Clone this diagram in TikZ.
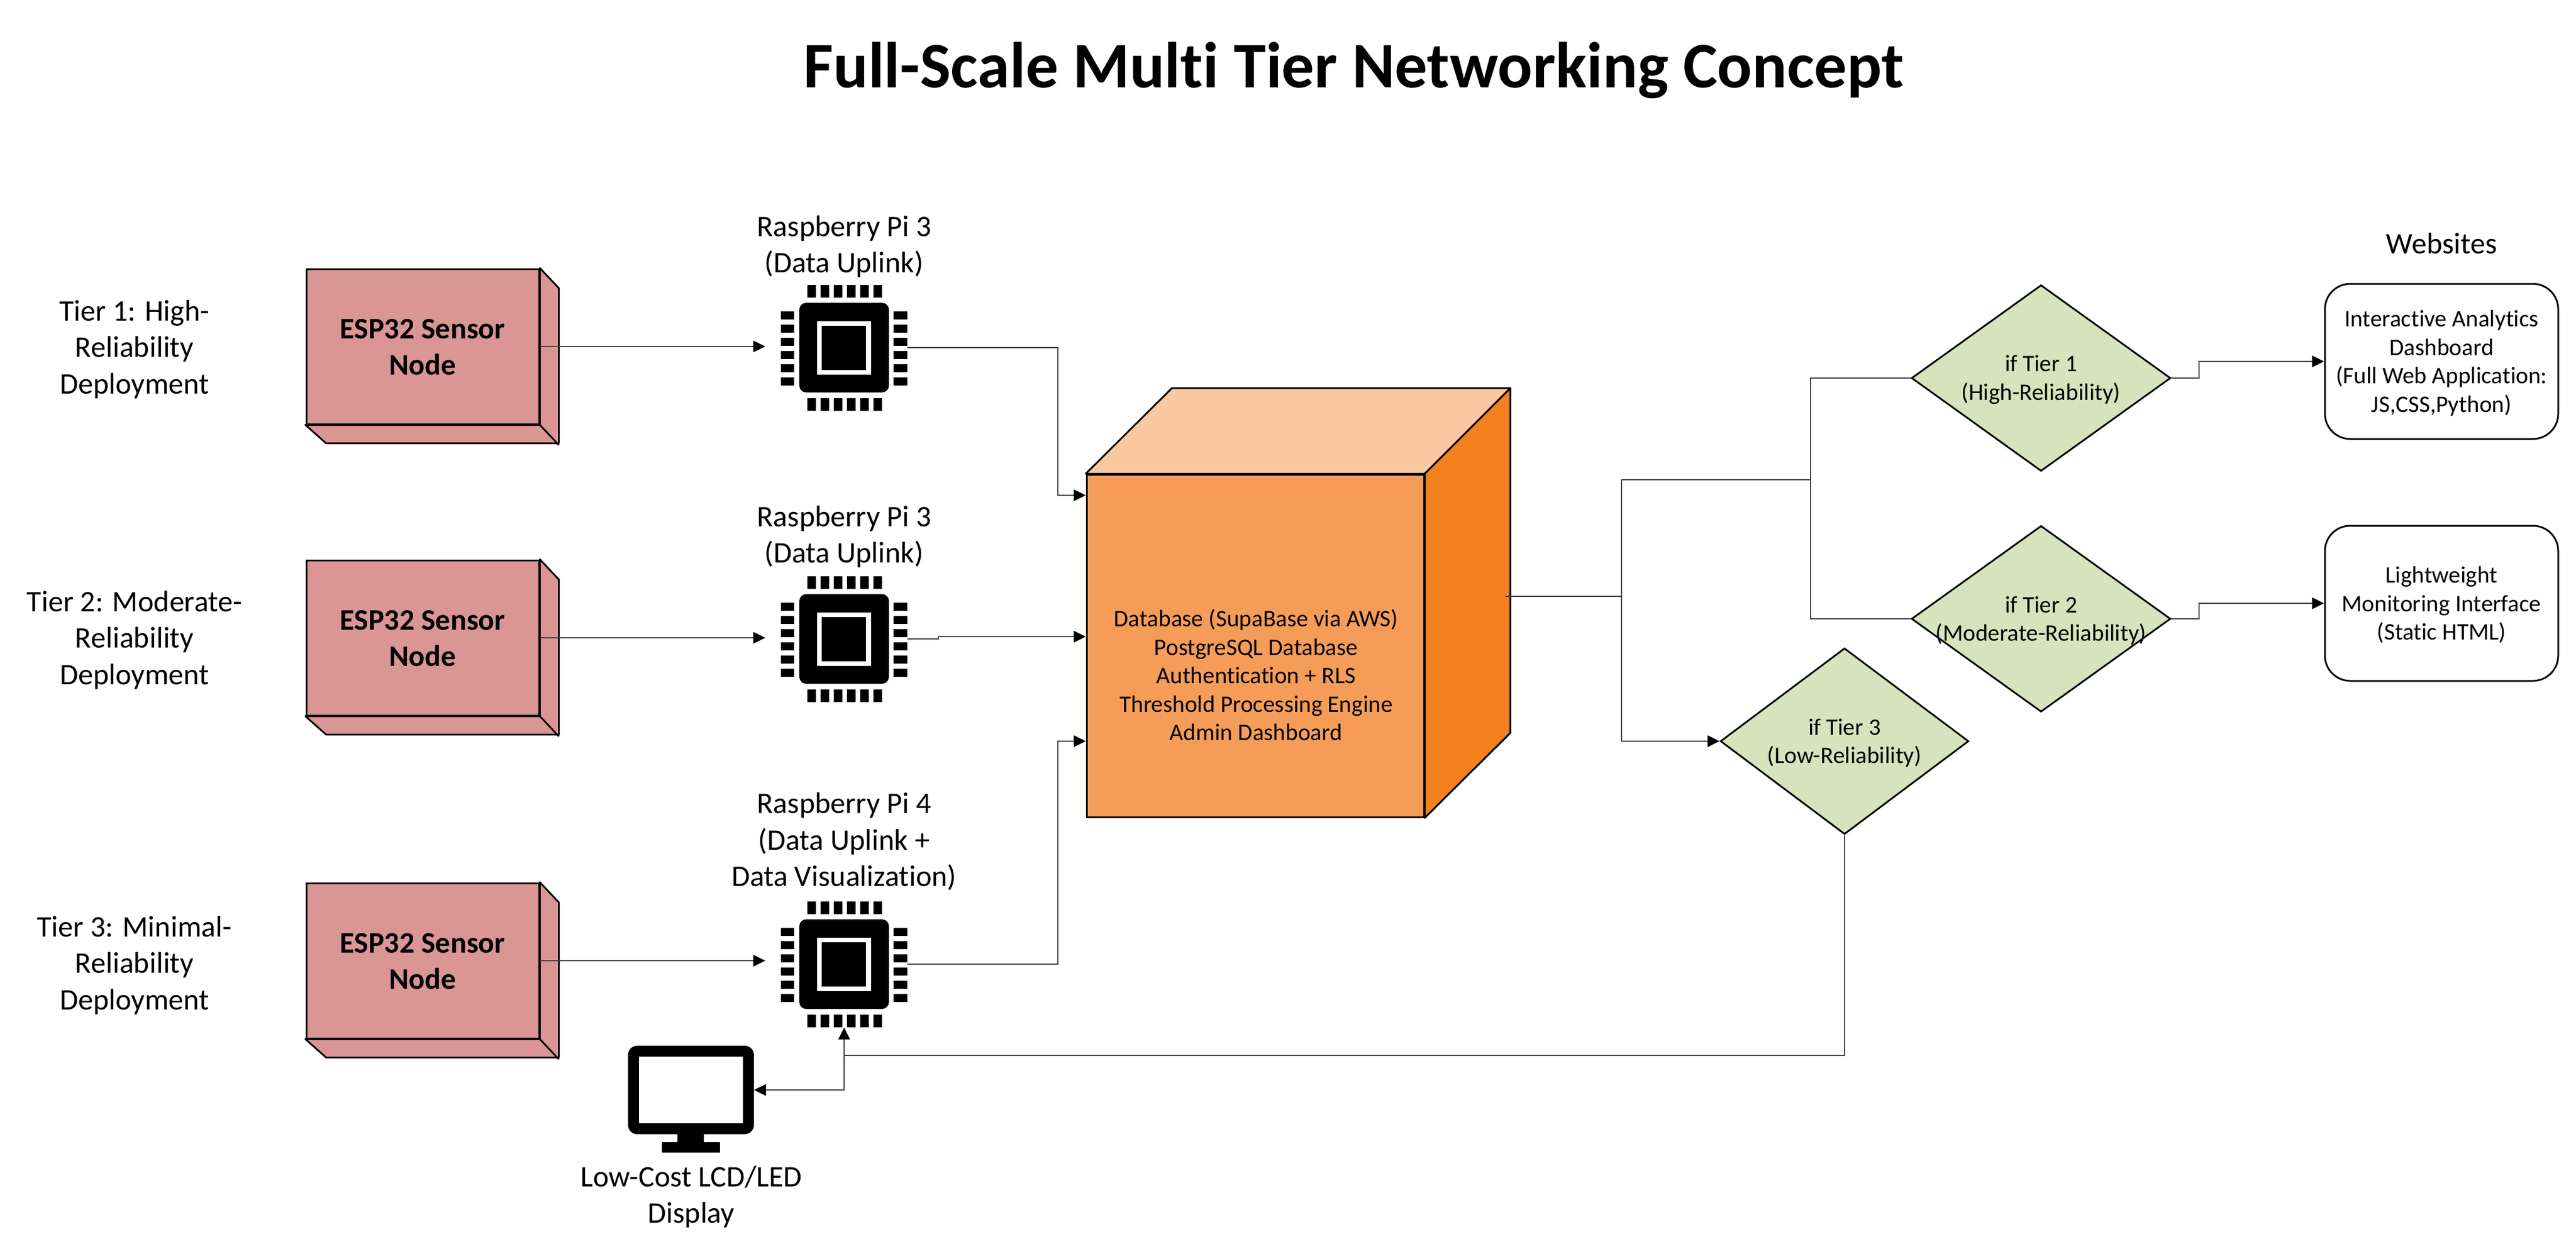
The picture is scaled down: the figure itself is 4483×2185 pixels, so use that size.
\documentclass[tikz,border=0pt]{standalone}
\usepackage{fontspec}
\setmainfont[Ligatures=NoCommon]{Carlito}
\usetikzlibrary{arrows.meta,shapes.geometric}
\definecolor{espfill}{HTML}{D99694}
\definecolor{dbfront}{HTML}{F59D58}
\definecolor{dbtop}{HTML}{FAC8A0}
\definecolor{dbside}{HTML}{F38120}
\definecolor{decfill}{HTML}{D7E3BC}
\definecolor{connline}{HTML}{404040}
\newcommand\chipfig[3]{%
  \begin{scope}[shift={(#2,#3)}]
    \node[chipbox] (#1) at (0,0) {};
    \fill[black,rounded corners=12pt] (-78,-78) rectangle (78,78);
    \fill[white] (-47,-46) rectangle (47,47);
    \fill[black] (-39,-38) rectangle (38,39);
    \foreach \i in {0,...,5} {
      \fill[black] ({-64+23*\i},-109) rectangle ({-49+23*\i},-87);
      \fill[black] ({-64+23*\i},88) rectangle ({-49+23*\i},110);
      \fill[black] (-110,{-63+23*\i}) rectangle (-87,{-49+23*\i});
      \fill[black] (86,{-63+23*\i}) rectangle (110,{-49+23*\i});
    }
  \end{scope}}
\newcommand\espfig[3]{%
  \node[espbox] (#1) at (#2,#3) {};
  \filldraw[shapeline,fill=espfill,line join=round] (#1.north east) -- ++(33,35) -- ++(0,270) -- ++(-405,0) -- (#1.south west) -- (#1.south east) -- cycle;
  \draw[shapeline] (#1.south east) -- ++(33,35);
  \node[esptext] at (#2,#3+1) {ESP32 Sensor\\Node};}
\tikzset{
  shapeline/.style={draw=black,line width=3pt},
  conn/.style={draw=connline,line width=2.5pt},
  arr/.style={conn,-{Triangle[length=21pt,width=20pt,fill=black,color=black]}},
  biarr/.style={conn,{Triangle[length=21pt,width=20pt,fill=black,color=black]}-{Triangle[length=21pt,width=20pt,fill=black,color=black]}},
  lab/.style={inner sep=0pt,align=center,text=black,font=\fontsize{52}{63.5}\selectfont},
  small/.style={inner sep=0pt,align=center,text=black,font=\fontsize{41.2}{49.5}\selectfont},
  espbox/.style={shapeline,fill=espfill,rectangle,minimum width=405pt,minimum height=270pt,inner sep=0pt},
  esptext/.style={inner sep=0pt,align=center,font=\bfseries\fontsize{52}{63}\selectfont},
  chipbox/.style={rectangle,minimum width=220pt,minimum height=220pt,inner sep=0pt},
  decbox/.style={diamond,shapeline,line width=3pt,fill=decfill,minimum width=#1,minimum height=324pt,inner sep=0pt},
  webbox/.style={rectangle,shapeline,rounded corners=44pt,fill=white,minimum width=406pt,minimum height=270pt,inner sep=0pt},
}
\begin{document}
\begin{tikzpicture}[x=1pt,y=-1pt]
\useasboundingbox (0,0) rectangle (4483,2185);
\fill[white] (0,0) rectangle (4483,2185);

\node[inner sep=0pt,font=\bfseries\fontsize{113}{125}\selectfont] (title) at (2356,122) {Full-Scale Multi Tier Networking Concept};

% tier labels
\node[lab] (t1) at (234,608) {Tier 1: High-\\Reliability\\Deployment};
\node[lab] (t2) at (234,1114) {Tier 2: Moderate-\\Reliability\\Deployment};
\node[lab] (t3) at (234,1680) {Tier 3: Minimal-\\Reliability\\Deployment};

% ESP nodes
\espfig{e1}{735.5}{603}
\espfig{e2}{735.5}{1110}
\espfig{e3}{735.5}{1672}

% chips
\chipfig{c1}{1469}{605}
\chipfig{c2}{1469}{1112}
\chipfig{c3}{1469}{1678}
\node[lab] (l1) at (1469,429) {Raspberry Pi 3\\(Data Uplink)};
\node[lab] (l2) at (1469,934) {Raspberry Pi 3\\(Data Uplink)};
\node[lab] (l3) at (1469,1465) {Raspberry Pi 4\\(Data Uplink +\\Data Visualization)};

% monitor
\node[rectangle,fill=black,rounded corners=16pt,minimum width=219pt,minimum height=154pt,inner sep=0pt] (mon) at (1202.5,1897) {};
\fill[white] (1112,1839) rectangle (1293,1955);
\fill[black] (1179,1970) rectangle (1225,1990);
\fill[black] (1152,1988) rectangle (1253,2006);
\node[lab] (ml) at (1203,2083) {Low-Cost LCD/LED\\Display};

% database
\node[rectangle,shapeline,fill=dbfront,minimum width=587pt,minimum height=596pt,inner sep=0pt] (db) at (2184.5,1124) {};
\filldraw[shapeline,fill=dbtop,line join=round] (db.north west) -- ++(150,-149) -- ([shift={(149,-149)}]db.north east) -- (db.north east) -- cycle;
\filldraw[shapeline,fill=dbside,line join=round] (db.north east) -- ++(149,-149) -- ([shift={(149,-148)}]db.south east) -- (db.south east) -- cycle;
\node[small] (dbt) at (2186,1175) {Database (SupaBase via AWS)\\PostgreSQL Database\\Authentication + RLS\\Threshold Processing Engine\\Admin Dashboard};

% decisions
\node[decbox=451pt] (d1) at (3552,658) {};
\node[small] at (3552,661) {if Tier 1\\(High-Reliability)};
\node[decbox=451pt] (d2) at (3552,1077) {};
\node[small] at (3552,1080) {if Tier 2\\(Moderate-Reliability)};
\node[decbox=432pt] (d3) at (3210,1290) {};
\node[small] at (3210,1293) {if Tier 3\\(Low-Reliability)};

% websites
\node[lab] (ws) at (4249,424) {Websites};
\node[webbox] (w1) at (4249,629) {};
\node[small] at (4249,632) {Interactive Analytics\\Dashboard\\(Full Web Application:\\JS,CSS,Python)};
\node[webbox] (w2) at (4249,1050) {};
\node[small] at (4249,1053) {Lightweight\\Monitoring Interface\\(Static HTML)};

% helper junctions
\coordinate (busl) at (1841,0);
\coordinate (dbout) at (2620,1038);
\coordinate (j1) at (2822,835);
\coordinate (j2) at (3151,835);
\coordinate (w1j) at (3827,0);
\coordinate (tap) at (1469,1837);

% connectors
\draw[arr,shorten >=27pt] (e1.east) -- (e1.east -| c1.west);
\draw[arr,shorten >=27pt] (e2.east) -- (e2.east -| c2.west);
\draw[arr,shorten >=27pt] (e3.east) -- (e3.east -| c3.west);
\draw[arr] (c1.east) -- (c1.east -| busl) |- (db.west |- 0,862);
\draw[arr] (c2.east) -- ++(54,0) |- (db.west |- 0,1108);
\draw[arr] (c3.east) -- (c3.east -| busl) |- (db.west |- 0,1290);
\draw[conn] (dbout) -- (dbout -| j1);
\draw[arr] (j1) |- (d3.west);
\draw[conn] (j1) -- (j2);
\draw[conn] (d1.west) -- (d1.west -| j2) |- (d2.west);
\draw[arr] (d1.east) -- (d1.east -| w1j) |- (w1.west);
\draw[arr] (d2.east) -- (d2.east -| w1j) |- (w2.west);
\draw[biarr] (mon.east) -| (c3.south);
\draw[conn] (d3.south) |- (tap);
\end{tikzpicture}
\end{document}
